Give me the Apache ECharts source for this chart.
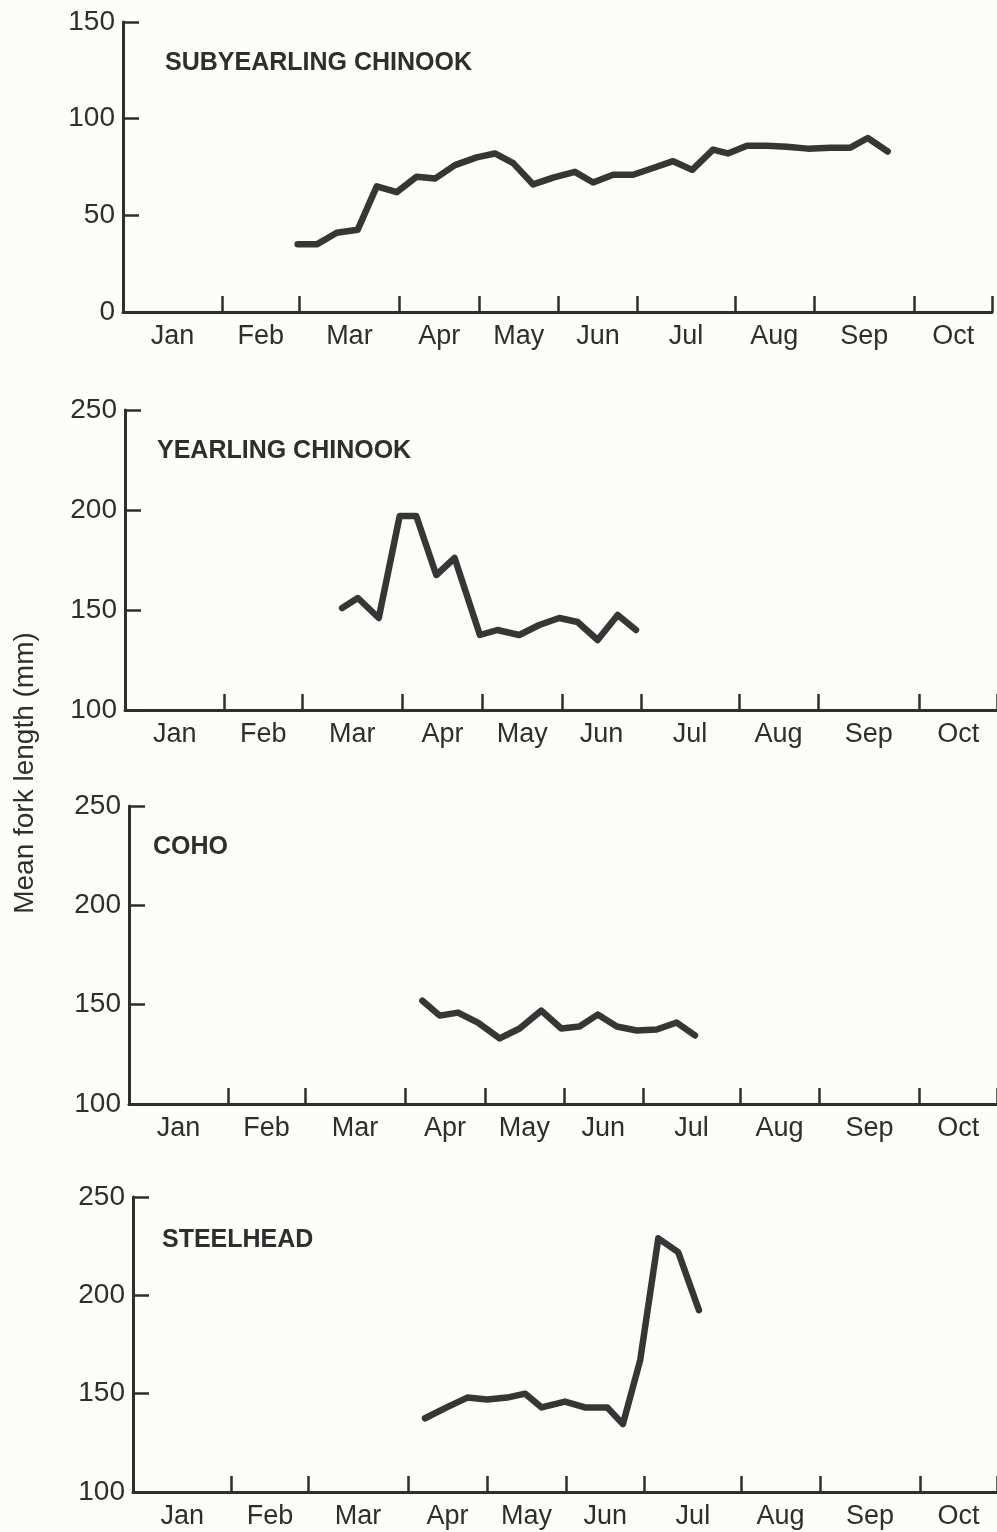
<!DOCTYPE html>
<html>
<head>
<meta charset="utf-8">
<title>Mean fork length by month</title>
<script src="https://cdn.jsdelivr.net/npm/echarts@6/dist/echarts.min.js"></script>
<style>
  html, body { margin: 0; padding: 0; background: #fcfcf9; }
  #chart { width: 997px; height: 1532px; }
</style>
</head>
<body>
<div id="chart"></div>
<script>
// Month names along the time axis (Jan..Oct)
const months = ['Jan', 'Feb', 'Mar', 'Apr', 'May', 'Jun', 'Jul', 'Aug', 'Sep', 'Oct'];
// Month boundaries on the drawn time scale (axis spans 0..10)
const monthEdges = [0, 1.14, 2.03, 3.18, 4.10, 5.01, 5.92, 7.04, 7.95, 9.11, 10];

// Subyearling chinook: [time position, mean fork length mm]
const subyearlingT = [2.01, 2.23, 2.46, 2.70, 2.92, 3.15, 3.38, 3.59, 3.82, 4.07, 4.28, 4.49, 4.72, 4.95, 5.20, 5.41, 5.64, 5.87, 6.10, 6.33, 6.55, 6.79, 6.96, 7.18, 7.41, 7.64, 7.88, 8.14, 8.37, 8.57, 8.80];
const subyearlingLen = [35, 35, 41, 42.5, 65, 62, 70, 69, 76, 80, 82, 77, 66, 69.5, 72.5, 67, 71, 71, 74.5, 78, 73.5, 84, 82, 86, 86, 85.5, 84.5, 85, 85, 90, 83];

// Yearling chinook
const yearlingT = [2.49, 2.67, 2.91, 3.15, 3.34, 3.57, 3.78, 4.07, 4.27, 4.52, 4.75, 4.98, 5.19, 5.42, 5.65, 5.86];
const yearlingLen = [151, 156, 146, 197, 197, 167.5, 176, 137.5, 140, 137.5, 142.5, 146, 144, 135, 147.5, 140];

// Coho
const cohoT = [3.38, 3.58, 3.79, 4.02, 4.27, 4.50, 4.75, 4.98, 5.19, 5.40, 5.62, 5.85, 6.08, 6.31, 6.52];
const cohoLen = [152, 144.5, 146, 141, 133, 138, 147, 138, 139, 145, 139, 137, 137.5, 141, 134.5];

// Steelhead
const steelheadT = [3.38, 3.63, 3.87, 4.10, 4.33, 4.54, 4.73, 5.00, 5.23, 5.49, 5.67, 5.87, 6.08, 6.31, 6.55];
const steelheadLen = [137.5, 143, 148, 147, 148, 150, 143, 146, 143, 143, 134.5, 167, 229, 222, 192.5];

// Panel titles and y ranges
const panelTitles = ['SUBYEARLING CHINOOK', 'YEARLING CHINOOK', 'COHO', 'STEELHEAD'];
const yRanges = [[0, 150], [100, 250], [100, 250], [100, 250]];

const INK = '#2e2e2e';
const FONT = '"Liberation Sans", Arial, Helvetica, sans-serif';

// Label positions sit midway between month boundaries
const monthMids = months.map((m, i) => (monthEdges[i] + monthEdges[i + 1]) / 2);
const tickEdges = monthEdges.slice(1);

const panels = [
  { t: subyearlingT, v: subyearlingLen, grid: { left: 123, top: 22, width: 869, height: 290 }, title: { left: 165, top: 51 } },
  { t: yearlingT, v: yearlingLen, grid: { left: 125, top: 410, width: 873, height: 300 }, title: { left: 157, top: 439 } },
  { t: cohoT, v: cohoLen, grid: { left: 129, top: 806, width: 869, height: 298 }, title: { left: 153, top: 835 } },
  { t: steelheadT, v: steelheadLen, grid: { left: 133, top: 1197, width: 864, height: 295 }, title: { left: 162, top: 1228 } }
];

const axisLineStyle = { color: INK, width: 3 };

const option = {
  backgroundColor: '#fcfcf9',
  animation: false,
  title: panels.map((p, i) => ({
    text: panelTitles[i],
    left: p.title.left,
    top: p.title.top,
    padding: 0,
    textStyle: { fontFamily: FONT, fontSize: 25, fontWeight: 'bold', color: INK }
  })),
  grid: panels.map(p => Object.assign({ containLabel: false }, p.grid)),
  xAxis: panels.map((p, i) => ({
    type: 'value',
    gridIndex: i,
    min: 0,
    max: 10,
    splitLine: { show: false },
    axisLine: { show: true, onZero: false, lineStyle: axisLineStyle },
    axisTick: { show: true, inside: true, length: 16, customValues: tickEdges, lineStyle: { color: INK, width: 2.5 } },
    axisLabel: {
      show: true,
      customValues: monthMids,
      margin: 11,
      fontFamily: FONT,
      fontSize: 27,
      color: INK,
      formatter: function (val) {
        let best = 0;
        for (let k = 1; k < monthMids.length; k++) {
          if (Math.abs(monthMids[k] - val) < Math.abs(monthMids[best] - val)) best = k;
        }
        return months[best];
      }
    }
  })),
  yAxis: panels.map((p, i) => ({
    type: 'value',
    gridIndex: i,
    min: yRanges[i][0],
    max: yRanges[i][1],
    interval: 50,
    splitLine: { show: false },
    axisLine: { show: true, onZero: false, lineStyle: axisLineStyle },
    axisTick: { show: true, inside: true, length: 16, lineStyle: { color: INK, width: 2.5 } },
    axisLabel: { margin: 8, fontFamily: FONT, fontSize: 28, color: INK }
  })),
  series: panels.map((p, i) => ({
    type: 'line',
    xAxisIndex: i,
    yAxisIndex: i,
    data: p.t.map((t, k) => [t, p.v[k]]),
    symbol: 'none',
    smooth: false,
    lineStyle: { color: '#363636', width: 6.5, cap: 'round', join: 'round' }
  })),
  graphic: [{
    type: 'text',
    x: 25,
    y: 773,
    rotation: Math.PI / 2,
    style: {
      text: 'Mean fork length (mm)',
      font: '28px ' + FONT,
      fill: INK,
      align: 'center',
      verticalAlign: 'middle',
      textAlign: 'center',
      textVerticalAlign: 'middle'
    }
  }]
};

const chart = echarts.init(document.getElementById('chart'), null, { renderer: 'canvas' });
chart.setOption(option);
</script>
</body>
</html>
